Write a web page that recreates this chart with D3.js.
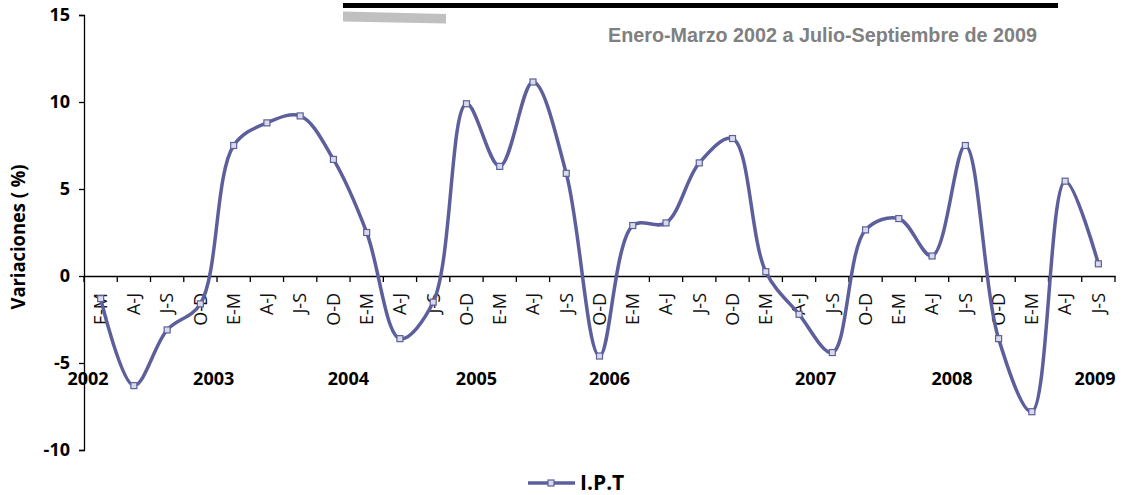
<!DOCTYPE html>
<html lang="es">
<head>
<meta charset="UTF-8">
<title>I.P.T variaciones</title>
<script src="https://d3js.org/d3.v7.min.js"></script>
<style>
  body { margin: 0; background: #fff; }
  svg text { font-family: "Open Sans", "DejaVu Sans", sans-serif; }
</style>
</head>
<body>
<svg id="chart" width="1122" height="495"></svg>
<script>
// datos: variaciones trimestrales del I.P.T (%)
var quarters = ["E-M", "A-J", "J-S", "O-D"];
var years = ["2002", "2003", "2004", "2005", "2006", "2007", "2008", "2009"];
var values = [-1.3, -6.3, -3.1, -1.6,
              7.5, 8.8, 9.2, 6.7,
              2.5, -3.6, -1.5, 9.9,
              6.3, 11.15, 5.9, -4.6,
              2.9, 3.05, 6.5, 7.9,
              0.25, -2.2, -4.4, 2.65,
              3.3, 1.15, 7.5, -3.6,
              -7.8, 5.45, 0.7];
// where each year label sits, in category units along the axis
var yearPos = [0.12, 3.9, 7.95, 11.8, 15.8, 22.0, 26.1, 30.4];
var yTicks = [-10, -5, 0, 5, 10, 15];
var seriesName = "I.P.T";
var subtitle = "Enero-Marzo 2002 a Julio-Septiembre de 2009";

var lineColor = "#5c5f9b";
var svg = d3.select("#chart");

var cats = values.map(function(d, i) { return i; });
var x = d3.scaleBand().domain(cats).range([84, 1115]).padding(0);
var xPos = d3.scaleLinear().domain([0, cats.length]).range([84, 1115]);
var y = d3.scaleLinear().domain([-10, 15]).range([450, 15]);

// top decoration bars
svg.append("rect")
  .attr("x", 343).attr("y", 3).attr("width", 715).attr("height", 5)
  .attr("fill", "#000");
svg.append("polygon")
  .attr("points", "343,11.5 446,14 446,23.5 343,21.5")
  .attr("fill", "#c0c0c0");

svg.append("text")
  .attr("x", 608).attr("y", 42)
  .attr("textLength", 429).attr("lengthAdjust", "spacingAndGlyphs")
  .style("font-family", "'Liberation Sans', Arial, sans-serif")
  .style("font-weight", "bold").style("font-size", "21px")
  .attr("fill", "#808080")
  .text(subtitle);

// y axis
var yAxis = d3.axisLeft(y).tickValues(yTicks).tickSize(5).tickPadding(9)
  .tickFormat(function(d) { return String(d); });
var gy = svg.append("g").attr("transform", "translate(84,0)").call(yAxis);
gy.select(".domain").attr("stroke", "#000").attr("stroke-width", 1.3);
gy.selectAll(".tick line").attr("stroke", "#000").attr("stroke-width", 1.3);
gy.selectAll(".tick text")
  .style("font-size", "18px").style("font-weight", "bold").attr("fill", "#000");

svg.append("text")
  .attr("transform", "translate(25,237) rotate(-90)")
  .attr("text-anchor", "middle")
  .attr("textLength", 145).attr("lengthAdjust", "spacingAndGlyphs")
  .style("font-size", "19px").style("font-weight", "bold")
  .text("Variaciones ( %)");

// x axis at zero
var xAxis = d3.axisBottom(x).tickSize(0).tickFormat(function(d) { return quarters[d % 4]; });
var gx = svg.append("g").attr("transform", "translate(0," + y(0) + ")").call(xAxis);
gx.select(".domain").attr("stroke", "#000").attr("stroke-width", 1.3);
gx.selectAll(".tick text")
  .attr("transform", "rotate(-90)")
  .attr("x", -17).attr("y", 0).attr("dy", "0.35em")
  .attr("text-anchor", "end")
  .style("font-size", "18px").attr("fill", "#111");
gx.selectAll(".qtick")
  .data(d3.range(cats.length + 1))
  .enter().append("line")
  .attr("class", "qtick")
  .attr("x1", function(d) { return xPos(d); })
  .attr("x2", function(d) { return xPos(d); })
  .attr("y1", 0).attr("y2", 6)
  .attr("stroke", "#000").attr("stroke-width", 1.3);

// year labels
svg.selectAll(".year")
  .data(years)
  .enter().append("text")
  .attr("class", "year")
  .attr("x", function(d, i) { return xPos(yearPos[i]); })
  .attr("y", 385)
  .attr("text-anchor", "middle")
  .style("font-size", "18px").style("font-weight", "bold")
  .text(function(d) { return d; });

// series line
var line = d3.line()
  .x(function(d, i) { return x(i) + x.bandwidth() / 2; })
  .y(function(d) { return y(d); })
  .curve(d3.curveCatmullRom.alpha(0.5));

svg.append("path")
  .datum(values)
  .attr("d", line)
  .attr("fill", "none")
  .attr("stroke", lineColor)
  .attr("stroke-width", 3.5);

svg.selectAll(".mark")
  .data(values)
  .enter().append("rect")
  .attr("class", "mark")
  .attr("x", function(d, i) { return x(i) + x.bandwidth() / 2 - 3; })
  .attr("y", function(d) { return y(d) - 3; })
  .attr("width", 6).attr("height", 6)
  .attr("fill", "#d9daea")
  .attr("stroke", lineColor).attr("stroke-width", 1.2);

// legend
var lg = svg.append("g").attr("transform", "translate(528,483)");
lg.append("line").attr("x1", 0).attr("x2", 47).attr("y1", 0).attr("y2", 0)
  .attr("stroke", lineColor).attr("stroke-width", 3.5);
lg.append("rect").attr("x", 20).attr("y", -3).attr("width", 6).attr("height", 6)
  .attr("fill", "#d9daea").attr("stroke", lineColor).attr("stroke-width", 1.2);
lg.append("text").attr("x", 52).attr("y", 7)
  .style("font-size", "21px").style("font-weight", "bold")
  .text(seriesName);
</script>
</body>
</html>
